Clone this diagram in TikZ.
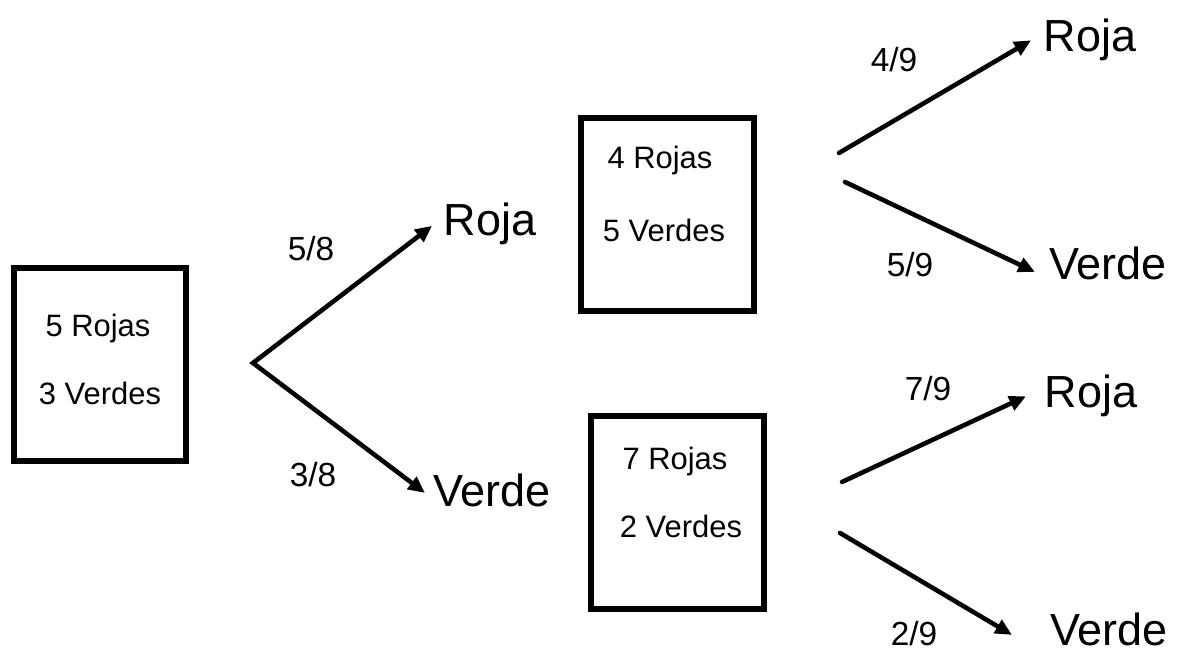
\documentclass[tikz,border=0pt]{standalone}
\usepackage{fontspec}
\setmainfont{Liberation Sans}
\usepackage{tikz}
\usetikzlibrary{arrows.meta}

\begin{document}
\begin{tikzpicture}
        \tikzstyle{urna}=[draw, line width=3.4pt, minimum width=3.45cm,
            minimum height=3.86cm, inner sep=0pt]
        \tikzstyle{bolas}=[font=\fontsize{17.6}{20}\selectfont,
            anchor=base, inner sep=0pt]
        \tikzstyle{prob}=[font=\fontsize{19}{22}\selectfont,
            anchor=base, inner sep=0pt]
        \tikzstyle{salida}=[font=\fontsize{25.6}{30}\selectfont,
            anchor=base west, inner sep=0pt]
        \tikzstyle{rama}=[line width=2.6pt, line cap=round,
            >={Triangle[length=9.5pt, width=8.5pt]}, ->]

            \useasboundingbox (0,0) rectangle (23.54,13);

            % urnas
            \node[urna] (urna0) at (2.0,5.71) {};
            \node[bolas] (r0) at (1.96,6.26) {5 Rojas};
            \node[bolas] (v0) at (2.0,4.90) {3 Verdes};

            \node[urna] (urnaR) at (13.35,8.71) {};
            \node[bolas] (rR) at (13.2,9.62) {4 Rojas};
            \node[bolas] (vR) at (13.28,8.16) {5 Verdes};

            \node[urna] (urnaV) at (13.55,2.75) {};
            \node[bolas] (rV) at (13.5,3.6) {7 Rojas};
            \node[bolas] (vV) at (13.62,2.24) {2 Verdes};

            % resultados
            \node[salida] (roja1) at (8.87,8.28) {Roja};
            \node[salida] (verde1) at (8.66,2.86) {Verde};
            \node[salida] (roja2) at (20.87,11.96) {Roja};
            \node[salida] (verde2) at (20.98,7.4) {Verde};
            \node[salida] (roja3) at (20.89,4.84) {Roja};
            \node[salida] (verde3) at (21.0,0.08) {Verde};

            % probabilidades
            \node[prob] (p58) at (6.22,7.78) {5/8};
            \node[prob] (p38) at (6.26,3.26) {3/8};
            \node[prob] (p49) at (17.88,11.56) {4/9};
            \node[prob] (p59) at (18.2,7.46) {5/9};
            \node[prob] (p79) at (18.56,4.98) {7/9};
            \node[prob] (p29) at (18.28,0.08) {2/9};

            \coordinate (split) at (5.06,5.74);
            \coordinate (sR1) at (16.78,9.94);
            \coordinate (sR2) at (16.9,9.36);
            \coordinate (sV1) at (16.84,3.36);
            \coordinate (sV2) at (16.8,2.34);

            \draw[rama, <->] ([xshift=-0.23cm, yshift=-0.03cm]roja1.west)
            -- (split) -- ([xshift=-0.16cm, yshift=-0.04cm]verde1.west);

            \foreach \desde/\hasta/\dx/\dy in {sR1/roja2/-0.25/0,
                sR2/verde2/-0.28/-0.16, sV1/roja3/-0.37/0,
                sV2/verde3/-0.76/-0.1}
            {
                \draw[rama] (\desde) --
                ([xshift=\dx cm, yshift=\dy cm]\hasta.west);
            }
    \end{tikzpicture}
\end{document}
